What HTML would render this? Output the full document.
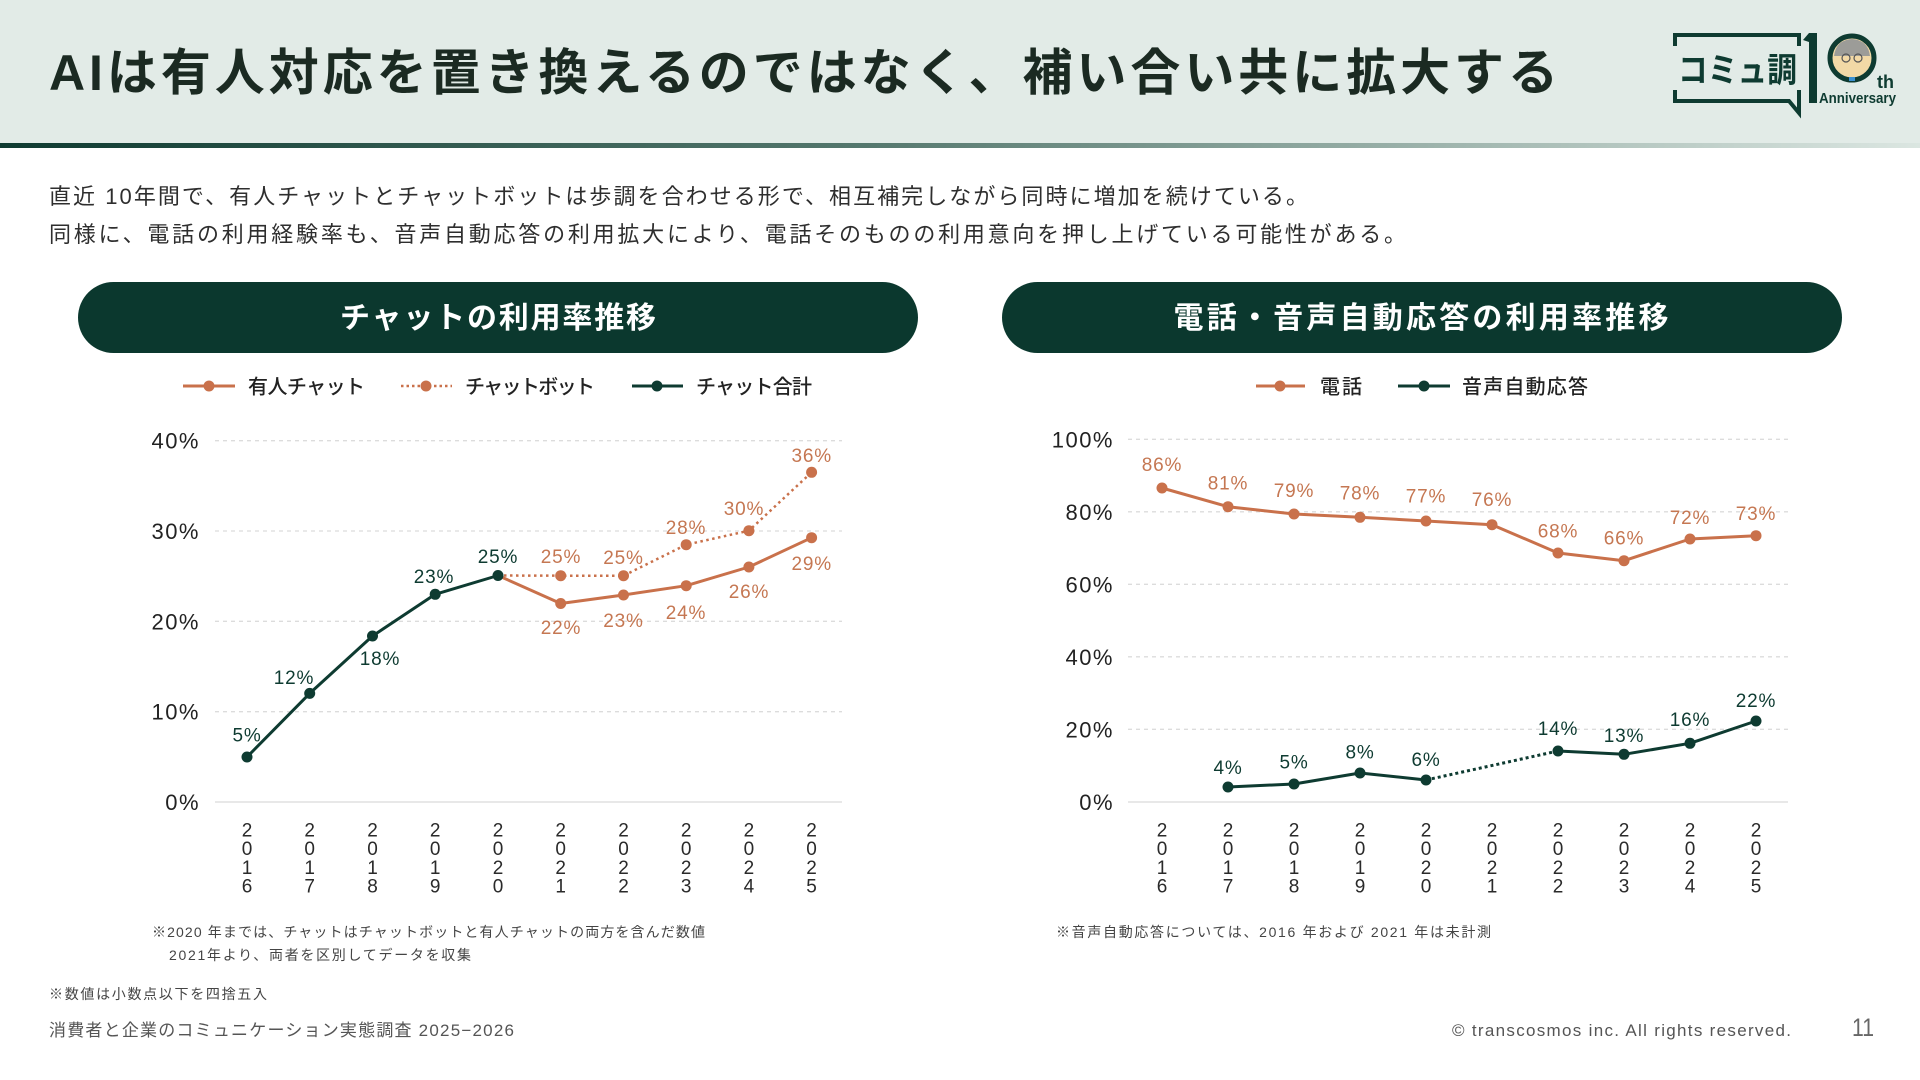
<!DOCTYPE html>
<html><head><meta charset="utf-8">
<style>
html,body{margin:0;padding:0;background:#fff;}
svg{display:block;}
text{font-family:"Liberation Sans","Noto Sans CJK JP",sans-serif;}
.yl{font-size:22px;fill:#222;letter-spacing:1.5px;}
.dl{font-size:19px;letter-spacing:0.8px;}
.yr{font-size:19px;fill:#2a2a2a;}
</style></head><body>
<svg width="1920" height="1080" viewBox="0 0 1920 1080" xmlns="http://www.w3.org/2000/svg">
<defs>
<linearGradient id="hl" x1="0" x2="1" y1="0" y2="0">
<stop offset="0" stop-color="#0f3b31"/>
<stop offset="0.45" stop-color="#55786e"/>
<stop offset="1" stop-color="#dbe6e1"/>
</linearGradient>
</defs>
<!-- Header -->
<rect x="0" y="0" width="1920" height="143" fill="#e2ebe7"/>
<rect x="0" y="143" width="1920" height="5" fill="url(#hl)"/>
<text x="49" y="90" font-size="50" font-weight="700" fill="#1b2a22" textLength="1509" lengthAdjust="spacing">AIは有人対応を置き換えるのではなく、補い合い共に拡大する</text>

<!-- Logo -->
<g fill="none" stroke="#0e3b31" stroke-width="4">
<path d="M1675,46 V35 H1799 V46"/>
<path d="M1675,90 V101 H1789 L1799,113 V90"/>
</g>
<text x="1678" y="82" font-size="34" font-weight="700" fill="#0e3b31" textLength="119" lengthAdjust="spacingAndGlyphs">コミュ調</text>
<rect x="1809" y="33" width="8" height="70" fill="#0e3b31"/>
<path d="M1809,33 L1803,40 L1809,42 Z" fill="#0e3b31"/>
<circle cx="1852" cy="58" r="22" fill="#f2d9a6" stroke="#0e3b31" stroke-width="5"/>
<path d="M1834,56 Q1836,40 1852,39 Q1868,40 1870,56 Z" fill="#9c9c98"/>
<circle cx="1846" cy="58" r="4" fill="none" stroke="#555" stroke-width="1.2"/>
<circle cx="1858" cy="58" r="4" fill="none" stroke="#555" stroke-width="1.2"/>
<rect x="1849" y="77" width="6" height="4" fill="#3a8fd0"/>
<text x="1877" y="88" font-size="18" font-weight="700" fill="#0e3b31">th</text>
<text x="1819" y="103" font-size="15" font-weight="700" fill="#0e3b31" textLength="77" lengthAdjust="spacingAndGlyphs">Anniversary</text>

<!-- Body text -->
<text x="49" y="204" font-size="22" fill="#2e2e2e" textLength="1259" lengthAdjust="spacing">直近 10年間で、有人チャットとチャットボットは歩調を合わせる形で、相互補完しながら同時に増加を続けている。</text>
<text x="49" y="242" font-size="22" fill="#2e2e2e" textLength="1357" lengthAdjust="spacing">同様に、電話の利用経験率も、音声自動応答の利用拡大により、電話そのものの利用意向を押し上げている可能性がある。</text>

<!-- Pills -->
<rect x="78" y="282" width="840" height="71" rx="35.5" fill="#0b382e"/>
<rect x="1002" y="282" width="840" height="71" rx="35.5" fill="#0b382e"/>
<text x="498" y="328" font-size="30" font-weight="700" fill="#fff" text-anchor="middle" textLength="316" lengthAdjust="spacing">チャットの利用率推移</text>
<text x="1421" y="328" font-size="30" font-weight="700" fill="#fff" text-anchor="middle" textLength="495" lengthAdjust="spacing">電話・音声自動応答の利用率推移</text>

<!-- Left legend -->
<line x1="183" y1="386" x2="235" y2="386" stroke="#c9714b" stroke-width="3"/>
<circle cx="209" cy="386" r="5.5" fill="#c9714b"/>
<text x="248" y="393.5" font-size="20" font-weight="500" fill="#222" textLength="117" lengthAdjust="spacing">有人チャット</text>
<line x1="401" y1="386" x2="452" y2="386" stroke="#c9714b" stroke-width="2.5" stroke-dasharray="2.5 3"/>
<circle cx="426" cy="386" r="5.5" fill="#c9714b"/>
<text x="465" y="393.5" font-size="20" font-weight="500" fill="#222" textLength="130" lengthAdjust="spacing">チャットボット</text>
<line x1="632" y1="386" x2="683" y2="386" stroke="#0e3b31" stroke-width="3"/>
<circle cx="657" cy="386" r="5.5" fill="#0e3b31"/>
<text x="696" y="393.5" font-size="20" font-weight="500" fill="#222" textLength="116" lengthAdjust="spacing">チャット合計</text>

<!-- Right legend -->
<line x1="1256" y1="386" x2="1305" y2="386" stroke="#c9714b" stroke-width="3"/>
<circle cx="1280" cy="386" r="5.5" fill="#c9714b"/>
<text x="1320" y="393.5" font-size="20" font-weight="500" fill="#222" textLength="42" lengthAdjust="spacing">電話</text>
<line x1="1398" y1="386" x2="1450" y2="386" stroke="#0e3b31" stroke-width="3"/>
<circle cx="1424" cy="386" r="5.5" fill="#0e3b31"/>
<text x="1462" y="393.5" font-size="20" font-weight="500" fill="#222" textLength="126" lengthAdjust="spacing">音声自動応答</text>

<!-- Left grid -->
<g stroke="#dcdcdc" stroke-width="1.3" stroke-dasharray="4 4">
<line x1="215" y1="440.7" x2="842" y2="440.7"/>
<line x1="215" y1="531" x2="842" y2="531"/>
<line x1="215" y1="621.3" x2="842" y2="621.3"/>
<line x1="215" y1="711.7" x2="842" y2="711.7"/>
</g>
<line x1="215" y1="802" x2="842" y2="802" stroke="#e0e0e0" stroke-width="1.5"/>
<g class="yl" text-anchor="end">
<text x="200" y="448.7">40%</text>
<text x="200" y="539">30%</text>
<text x="200" y="629.3">20%</text>
<text x="200" y="719.7">10%</text>
<text x="200" y="810">0%</text>
</g>

<!-- Left series -->
<polyline points="498,575.5 560.7,575.7 623.5,575.7 686.2,544.7 748.9,530.7 811.6,472.3" fill="none" stroke="#c9714b" stroke-width="2.5" stroke-dasharray="2.5 3.5"/>
<polyline points="498,575.5 560.7,603.5 623.5,595 686.2,585.7 748.9,567 811.6,537.7" fill="none" stroke="#c9714b" stroke-width="3" stroke-linejoin="round"/>
<polyline points="247,757 309.7,693.4 372.5,636 435.2,594.3 498,575.5" fill="none" stroke="#0e3b31" stroke-width="3" stroke-linejoin="round"/>
<g fill="#c9714b">
<circle cx="560.7" cy="575.7" r="5.5"/><circle cx="623.5" cy="575.7" r="5.5"/><circle cx="686.2" cy="544.7" r="5.5"/><circle cx="748.9" cy="530.7" r="5.5"/><circle cx="811.6" cy="472.3" r="5.5"/>
<circle cx="560.7" cy="603.5" r="5.5"/><circle cx="623.5" cy="595" r="5.5"/><circle cx="686.2" cy="585.7" r="5.5"/><circle cx="748.9" cy="567" r="5.5"/><circle cx="811.6" cy="537.7" r="5.5"/>
</g>
<g fill="#0e3b31">
<circle cx="247" cy="757" r="5.5"/><circle cx="309.7" cy="693.4" r="5.5"/><circle cx="372.5" cy="636" r="5.5"/><circle cx="435.2" cy="594.3" r="5.5"/><circle cx="498" cy="575.5" r="5.5"/>
</g>
<g class="dl" fill="#0e3b31" text-anchor="middle">
<text x="247" y="741.5">5%</text>
<text x="294" y="684">12%</text>
<text x="380" y="665">18%</text>
<text x="434" y="583">23%</text>
<text x="498" y="563">25%</text>
</g>
<g class="dl" fill="#c57752" text-anchor="middle">
<text x="561" y="563">25%</text>
<text x="623.5" y="564">25%</text>
<text x="686" y="534">28%</text>
<text x="744" y="515">30%</text>
<text x="811.7" y="462">36%</text>
<text x="561" y="634">22%</text>
<text x="623.5" y="627">23%</text>
<text x="686" y="619">24%</text>
<text x="749" y="598">26%</text>
<text x="811.7" y="570">29%</text>
</g>

<!-- Left years -->
<g class="yr" text-anchor="middle">
<text><tspan x="247" y="836.5">2</tspan><tspan x="247" y="855.2">0</tspan><tspan x="247" y="873.9">1</tspan><tspan x="247" y="892.5">6</tspan></text>
<text><tspan x="309.7" y="836.5">2</tspan><tspan x="309.7" y="855.2">0</tspan><tspan x="309.7" y="873.9">1</tspan><tspan x="309.7" y="892.5">7</tspan></text>
<text><tspan x="372.5" y="836.5">2</tspan><tspan x="372.5" y="855.2">0</tspan><tspan x="372.5" y="873.9">1</tspan><tspan x="372.5" y="892.5">8</tspan></text>
<text><tspan x="435.2" y="836.5">2</tspan><tspan x="435.2" y="855.2">0</tspan><tspan x="435.2" y="873.9">1</tspan><tspan x="435.2" y="892.5">9</tspan></text>
<text><tspan x="498" y="836.5">2</tspan><tspan x="498" y="855.2">0</tspan><tspan x="498" y="873.9">2</tspan><tspan x="498" y="892.5">0</tspan></text>
<text><tspan x="560.7" y="836.5">2</tspan><tspan x="560.7" y="855.2">0</tspan><tspan x="560.7" y="873.9">2</tspan><tspan x="560.7" y="892.5">1</tspan></text>
<text><tspan x="623.5" y="836.5">2</tspan><tspan x="623.5" y="855.2">0</tspan><tspan x="623.5" y="873.9">2</tspan><tspan x="623.5" y="892.5">2</tspan></text>
<text><tspan x="686.2" y="836.5">2</tspan><tspan x="686.2" y="855.2">0</tspan><tspan x="686.2" y="873.9">2</tspan><tspan x="686.2" y="892.5">3</tspan></text>
<text><tspan x="748.9" y="836.5">2</tspan><tspan x="748.9" y="855.2">0</tspan><tspan x="748.9" y="873.9">2</tspan><tspan x="748.9" y="892.5">4</tspan></text>
<text><tspan x="811.6" y="836.5">2</tspan><tspan x="811.6" y="855.2">0</tspan><tspan x="811.6" y="873.9">2</tspan><tspan x="811.6" y="892.5">5</tspan></text>
</g>

<!-- Right grid -->
<g stroke="#dcdcdc" stroke-width="1.3" stroke-dasharray="4 4">
<line x1="1128" y1="439.3" x2="1788" y2="439.3"/>
<line x1="1128" y1="511.8" x2="1788" y2="511.8"/>
<line x1="1128" y1="584.3" x2="1788" y2="584.3"/>
<line x1="1128" y1="656.8" x2="1788" y2="656.8"/>
<line x1="1128" y1="729.3" x2="1788" y2="729.3"/>
</g>
<line x1="1128" y1="802" x2="1788" y2="802" stroke="#e0e0e0" stroke-width="1.5"/>
<g class="yl" text-anchor="end">
<text x="1114" y="447.3">100%</text>
<text x="1114" y="519.8">80%</text>
<text x="1114" y="592.3">60%</text>
<text x="1114" y="664.8">40%</text>
<text x="1114" y="737.3">20%</text>
<text x="1114" y="810">0%</text>
</g>

<!-- Right series -->
<polyline points="1162,488 1228,506.7 1294,514 1360,517.3 1426,521 1492,524.7 1558,553 1624,560.7 1690,539 1756,535.7" fill="none" stroke="#c9714b" stroke-width="3" stroke-linejoin="round"/>
<g fill="#c9714b">
<circle cx="1162" cy="488" r="5.5"/><circle cx="1228" cy="506.7" r="5.5"/><circle cx="1294" cy="514" r="5.5"/><circle cx="1360" cy="517.3" r="5.5"/><circle cx="1426" cy="521" r="5.5"/><circle cx="1492" cy="524.7" r="5.5"/><circle cx="1558" cy="553" r="5.5"/><circle cx="1624" cy="560.7" r="5.5"/><circle cx="1690" cy="539" r="5.5"/><circle cx="1756" cy="535.7" r="5.5"/>
</g>
<polyline points="1228,787 1294,784 1360,773 1426,780" fill="none" stroke="#0e3b31" stroke-width="3" stroke-linejoin="round"/>
<line x1="1426" y1="780" x2="1558" y2="751" stroke="#0e3b31" stroke-width="3" stroke-dasharray="3 3"/>
<polyline points="1558,751 1624,754.3 1690,743.3 1756,721" fill="none" stroke="#0e3b31" stroke-width="3" stroke-linejoin="round"/>
<g fill="#0e3b31">
<circle cx="1228" cy="787" r="5.5"/><circle cx="1294" cy="784" r="5.5"/><circle cx="1360" cy="773" r="5.5"/><circle cx="1426" cy="780" r="5.5"/><circle cx="1558" cy="751" r="5.5"/><circle cx="1624" cy="754.3" r="5.5"/><circle cx="1690" cy="743.3" r="5.5"/><circle cx="1756" cy="721" r="5.5"/>
</g>
<g class="dl" fill="#c57752" text-anchor="middle">
<text x="1162" y="471">86%</text>
<text x="1228" y="489.5">81%</text>
<text x="1294" y="497">79%</text>
<text x="1360" y="499.5">78%</text>
<text x="1426" y="502.5">77%</text>
<text x="1492" y="506">76%</text>
<text x="1558" y="537.5">68%</text>
<text x="1624" y="544.5">66%</text>
<text x="1690" y="524">72%</text>
<text x="1756" y="520">73%</text>
</g>
<g class="dl" fill="#0e3b31" text-anchor="middle">
<text x="1228" y="774">4%</text>
<text x="1294" y="768.5">5%</text>
<text x="1360" y="758.5">8%</text>
<text x="1426" y="766">6%</text>
<text x="1558" y="735">14%</text>
<text x="1624" y="742">13%</text>
<text x="1690" y="726">16%</text>
<text x="1756" y="707">22%</text>
</g>

<!-- Right years -->
<g class="yr" text-anchor="middle">
<text><tspan x="1162" y="836.5">2</tspan><tspan x="1162" y="855.2">0</tspan><tspan x="1162" y="873.9">1</tspan><tspan x="1162" y="892.5">6</tspan></text>
<text><tspan x="1228" y="836.5">2</tspan><tspan x="1228" y="855.2">0</tspan><tspan x="1228" y="873.9">1</tspan><tspan x="1228" y="892.5">7</tspan></text>
<text><tspan x="1294" y="836.5">2</tspan><tspan x="1294" y="855.2">0</tspan><tspan x="1294" y="873.9">1</tspan><tspan x="1294" y="892.5">8</tspan></text>
<text><tspan x="1360" y="836.5">2</tspan><tspan x="1360" y="855.2">0</tspan><tspan x="1360" y="873.9">1</tspan><tspan x="1360" y="892.5">9</tspan></text>
<text><tspan x="1426" y="836.5">2</tspan><tspan x="1426" y="855.2">0</tspan><tspan x="1426" y="873.9">2</tspan><tspan x="1426" y="892.5">0</tspan></text>
<text><tspan x="1492" y="836.5">2</tspan><tspan x="1492" y="855.2">0</tspan><tspan x="1492" y="873.9">2</tspan><tspan x="1492" y="892.5">1</tspan></text>
<text><tspan x="1558" y="836.5">2</tspan><tspan x="1558" y="855.2">0</tspan><tspan x="1558" y="873.9">2</tspan><tspan x="1558" y="892.5">2</tspan></text>
<text><tspan x="1624" y="836.5">2</tspan><tspan x="1624" y="855.2">0</tspan><tspan x="1624" y="873.9">2</tspan><tspan x="1624" y="892.5">3</tspan></text>
<text><tspan x="1690" y="836.5">2</tspan><tspan x="1690" y="855.2">0</tspan><tspan x="1690" y="873.9">2</tspan><tspan x="1690" y="892.5">4</tspan></text>
<text><tspan x="1756" y="836.5">2</tspan><tspan x="1756" y="855.2">0</tspan><tspan x="1756" y="873.9">2</tspan><tspan x="1756" y="892.5">5</tspan></text>
</g>

<!-- Footnotes -->
<text x="152" y="937" font-size="14" fill="#444" textLength="553" lengthAdjust="spacing">※2020 年までは、チャットはチャットボットと有人チャットの両方を含んだ数値</text>
<text x="169" y="960" font-size="14" fill="#444" textLength="302" lengthAdjust="spacing">2021年より、両者を区別してデータを収集</text>
<text x="1056" y="937" font-size="14" fill="#444" textLength="435" lengthAdjust="spacing">※音声自動応答については、2016 年および 2021 年は未計測</text>
<text x="49" y="999" font-size="14" fill="#444" textLength="218" lengthAdjust="spacing">※数値は小数点以下を四捨五入</text>
<text x="49" y="1036" font-size="17" fill="#555" textLength="465" lengthAdjust="spacing">消費者と企業のコミュニケーション実態調査 2025−2026</text>
<text x="1452" y="1036" font-size="17" fill="#555" textLength="339" lengthAdjust="spacing">© transcosmos inc. All rights reserved.</text>
<text x="1852" y="1036" font-size="25" fill="#666" textLength="22" lengthAdjust="spacingAndGlyphs">11</text>
</svg>
</body></html>
